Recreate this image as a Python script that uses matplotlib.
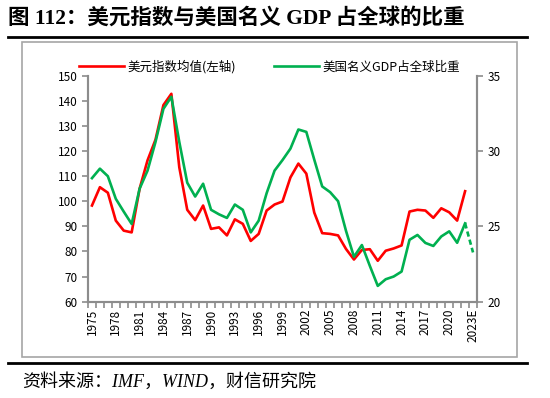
import numpy as np
import matplotlib
matplotlib.use('Agg')
import matplotlib.pyplot as plt
from matplotlib.lines import Line2D

plt.rcParams['font.family'] = ['Noto Sans CJK SC', 'DejaVu Sans']
plt.rcParams['axes.unicode_minus'] = False

# --- 数据 ---
anos = [str(a) for a in range(1975, 2023)] + ['2023E']

dxy = [98.3, 105.6, 103.4, 92.3, 88.3, 87.6, 105.0, 116.3, 124.5, 138.3,
       142.8, 113.5, 96.6, 92.5, 98.3, 89.0, 89.6, 86.4, 92.8, 91.0,
       84.2, 87.0, 96.3, 98.7, 99.9, 109.5, 115.0, 111.0, 95.5, 87.3,
       87.0, 86.4, 81.0, 76.8, 80.6, 80.9, 76.3, 80.3, 81.2, 82.4,
       95.9, 96.6, 96.3, 93.4, 97.2, 95.6, 92.3, 104.0, np.nan]

gdp_share = [28.2, 28.83, 28.33, 26.83, 25.98, 25.16, 27.5, 28.7, 30.6, 32.8,
             33.6, 30.6, 27.9, 26.98, 27.83, 26.1, 25.8, 25.56, 26.45, 26.1,
             24.6, 25.38, 27.2, 28.7, 29.4, 30.16, 31.43, 31.27, 29.43, 27.65,
             27.27, 26.67, 24.7, 22.98, 23.76, 22.38, 21.05, 21.49, 21.67, 22.0,
             24.11, 24.43, 23.9, 23.7, 24.33, 24.67, 23.91, 25.2, 23.27]

legenda_dxy = '美元指数均值(左轴)'
legenda_gdp = '美国名义GDP占全球比重'
titulo = '图 112：美元指数与美国名义 GDP 占全球的比重'
fonte = '资料来源：IMF，WIND，财信研究院'

# --- cores ---
COR_VERMELHO = '#FF0000'
COR_VERDE = '#00B050'
COR_EIXO = '#8C8C8C'

fig = plt.figure(figsize=(5.5, 3.98), dpi=100)
ax = fig.add_axes([88 / 550, 1 - 301.7 / 398, (477 - 88) / 550, (301.7 - 75.7) / 398])
ax2 = ax.twinx()

x = np.arange(len(anos))
n_real = len(anos) - 1  # último ponto é estimativa

ax.plot(x, dxy, color=COR_VERMELHO, lw=1.9, zorder=3)
ax2.plot(x[:n_real], gdp_share[:n_real], color=COR_VERDE, lw=1.9)
ax2.plot(x[n_real - 1:], gdp_share[n_real - 1:], color=COR_VERDE, lw=1.9, ls=(0, (2, 1.2)))

ax.set_xlim(-0.5, len(anos) - 0.5)
ax.set_ylim(60, 150)
ax2.set_ylim(20, 35)
ax.set_yticks(np.arange(60, 151, 10))
ax2.set_yticks([20, 25, 30, 35])

# rótulos a cada 3 anos, marcas entre categorias
ax.set_xticks(x[::3])
ax.set_xticklabels(anos[::3], rotation=90, fontsize=8.5)
ax.set_xticks(np.arange(-0.5, len(anos), 1), minor=True)
ax.tick_params(axis='x', which='major', length=0, pad=5)
ax.tick_params(axis='x', which='minor', length=4, width=1.2, color=COR_EIXO, direction='out')
ax.tick_params(axis='y', length=4, width=1.2, color=COR_EIXO, labelsize=8.5, direction='out')
ax2.tick_params(axis='y', length=4, width=1.2, color=COR_EIXO, labelsize=8.5, direction='out')

for a in (ax, ax2):
    a.spines['top'].set_visible(False)
    for s in ['left', 'right', 'bottom']:
        a.spines[s].set_color(COR_EIXO)
        a.spines[s].set_linewidth(1.5)

handles = [Line2D([], [], color=COR_VERMELHO, lw=1.9),
           Line2D([], [], color=COR_VERDE, lw=1.9)]
fig.legend(handles, [legenda_dxy, legenda_gdp], loc='center',
           bbox_to_anchor=(0.49, 1 - 67 / 398), ncol=2, frameon=False,
           fontsize=9, handlelength=3.6, handletextpad=0.3, columnspacing=3.0)

# --- moldura, título e fonte ---
fig.text(8 / 550, 1 - 18 / 398, titulo, fontsize=15.5, fontweight='bold',
         family=['Liberation Serif', 'Noto Sans CJK SC'], va='center', ha='left')
fig.add_artist(Line2D([8 / 550, 527 / 550], [1 - 37 / 398] * 2, color='black', lw=2))
fig.add_artist(plt.Rectangle((22 / 550, 1 - 357 / 398), 495 / 550, 315 / 398,
                             fill=False, edgecolor='#A6A6A6', lw=1.2))
fig.add_artist(Line2D([8 / 550, 527 / 550], [1 - 363 / 398] * 2, color='black', lw=2))
fig.text(22 / 550, 1 - 382 / 398, fonte, fontsize=13, style='italic',
         family=['Liberation Serif', 'Noto Sans CJK SC'], va='center', ha='left')

fig.savefig('out.png', dpi=100)
